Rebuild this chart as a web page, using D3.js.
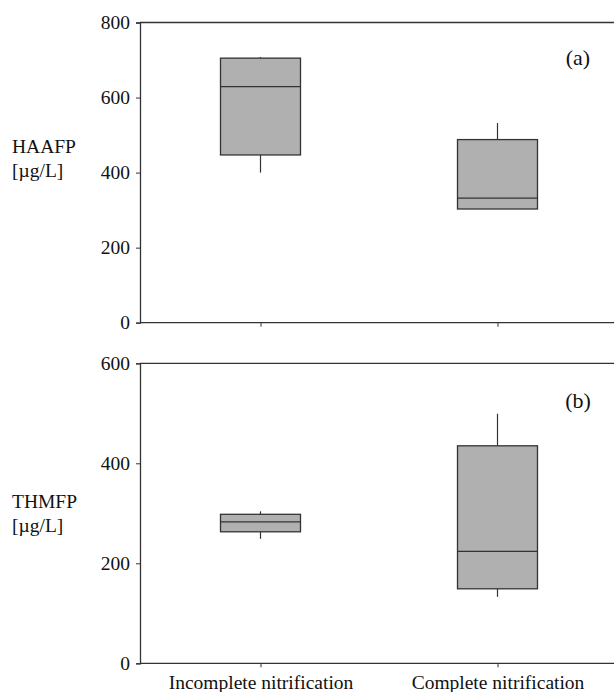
<!DOCTYPE html>
<html><head><meta charset="utf-8">
<script src="https://cdn.jsdelivr.net/npm/d3@7"></script>
<style>body{margin:0;background:#fff}svg{display:block}text{font-family:"Liberation Serif","Times New Roman",serif;fill:#111}</style>
</head><body><svg id="c" width="614" height="692"></svg>
<script>
const categories = ["Incomplete nitrification", "Complete nitrification"];
// panel (a) HAAFP
const haaMin = [400, 303];
const haaQ1 = [447, 303];
const haaMed = [629, 332];
const haaQ3 = [705, 488];
const haaMax = [708, 532];
// panel (b) THMFP
const thmMin = [249, 133];
const thmQ1 = [263, 149];
const thmMed = [283, 224];
const thmQ3 = [298, 435];
const thmMax = [304, 499];
const haaTicks = [0, 200, 400, 600, 800];
const thmTicks = [0, 200, 400, 600];

const svg = d3.select("#c");
const stroke = "#333";
const left = 140, right = 614;
const x = d3.scalePoint().domain(categories).range([142, 616]).padding(0.5);
const boxW = 80;

function panel(cfg) {
  const y = d3.scaleLinear().domain([0, cfg.max]).range([cfg.bottom, cfg.top]);
  const g = svg.append("g");
  g.append("line").attr("x1", left).attr("x2", right).attr("y1", y(cfg.max)).attr("y2", y(cfg.max)).attr("stroke", stroke).attr("stroke-width", 1.3);
  g.append("line").attr("x1", left).attr("x2", right).attr("y1", y(0)).attr("y2", y(0)).attr("stroke", stroke).attr("stroke-width", 1.3);
  const ya = g.append("g").attr("transform", `translate(${left},0)`)
    .call(d3.axisLeft(y).tickValues(cfg.ticks).tickSize(4).tickPadding(6).tickFormat(d3.format("d")));
  ya.select(".domain").attr("stroke", stroke).attr("stroke-width", 1.3);
  ya.selectAll(".tick line").attr("stroke", stroke);
  ya.selectAll("text").style("font-size", "19.5px").attr("fill", "#111");
  const xa = g.append("g").attr("transform", `translate(0,${y(0)})`)
    .call(d3.axisBottom(x).tickSize(4).tickPadding(cfg.showLabels ? 8 : 0).tickFormat(cfg.showLabels ? (d => d) : () => ""));
  xa.select(".domain").remove();
  xa.selectAll(".tick line").attr("stroke", stroke);
  xa.selectAll("text").style("font-size", "19.5px").attr("fill", "#111");
  categories.forEach((c, i) => {
    const cx = x(c);
    g.append("line").attr("x1", cx).attr("x2", cx).attr("y1", y(cfg.max_[i])).attr("y2", y(cfg.q3[i])).attr("stroke", stroke).attr("stroke-width", 1.2);
    g.append("line").attr("x1", cx).attr("x2", cx).attr("y1", y(cfg.q1[i])).attr("y2", y(cfg.min[i])).attr("stroke", stroke).attr("stroke-width", 1.2);
    g.append("rect").attr("x", cx - boxW / 2).attr("width", boxW)
      .attr("y", y(cfg.q3[i])).attr("height", y(cfg.q1[i]) - y(cfg.q3[i]))
      .attr("fill", "#b0b0b0").attr("stroke", stroke).attr("stroke-width", 1.3);
    g.append("line").attr("x1", cx - boxW / 2).attr("x2", cx + boxW / 2).attr("y1", y(cfg.med[i])).attr("y2", y(cfg.med[i])).attr("stroke", stroke).attr("stroke-width", 1.3);
  });
  g.append("text").attr("x", 578).attr("y", cfg.top + cfg.tagDy).attr("text-anchor", "middle").style("font-size", "22px").text(cfg.tag);
  g.append("text").attr("x", 12).attr("y", cfg.labelY).style("font-size", "19.5px").text(cfg.label);
  g.append("text").attr("x", 12).attr("y", cfg.labelY + 24).style("font-size", "19.5px").text("[µg/L]");
}

panel({max: 800, top: 22.5, bottom: 322.7, ticks: haaTicks, min: haaMin, q1: haaQ1, med: haaMed, q3: haaQ3, max_: haaMax,
  tag: "(a)", tagDy: 42, label: "HAAFP", labelY: 153, showLabels: false});
panel({max: 600, top: 363.3, bottom: 663.3, ticks: thmTicks, min: thmMin, q1: thmQ1, med: thmMed, q3: thmQ3, max_: thmMax,
  tag: "(b)", tagDy: 45, label: "THMFP", labelY: 508, showLabels: true});
</script></body></html>
